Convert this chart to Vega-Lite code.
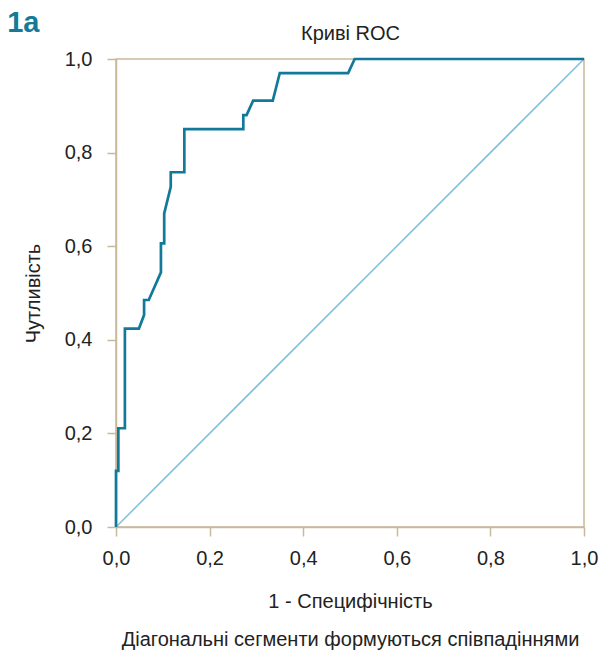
{
  "$schema": "https://vega.github.io/schema/vega-lite/v6.json",
  "autosize": "none",
  "width": 468,
  "height": 468,
  "padding": {"left": 116, "top": 59, "right": 17, "bottom": 134},
  "background": "#ffffff",
  "title": {
    "text": "1a",
    "anchor": "start",
    "frame": "bounds",
    "dx": -16,
    "dy": 36,
    "offset": -2,
    "baseline": "alphabetic"
  },
  "config": {
    "font": "Liberation Sans",
    "title": {"font": "Liberation Sans", "fontSize": 29, "fontWeight": "bold", "color": "#147a98"},
    "view": {"stroke": "#c9b99b", "strokeWidth": 1.5},
    "axis": {
      "domainColor": "#c9b99b",
      "domainWidth": 1.5,
      "tickColor": "#c9b99b",
      "tickWidth": 1.5,
      "tickSize": 9,
      "grid": false,
      "labelFlush": false,
      "labelFont": "Liberation Sans",
      "labelFontSize": 20,
      "labelColor": "#222222",
      "titleFont": "Liberation Sans",
      "titleFontSize": 20,
      "titleFontWeight": "normal",
      "titleColor": "#222222"
    }
  },
  "datasets": {
    "roc": [
      {"o": 0, "fpr": 0, "tpr": 0},
      {"o": 1, "fpr": 0, "tpr": 0.12},
      {"o": 2, "fpr": 0.005, "tpr": 0.12},
      {"o": 3, "fpr": 0.005, "tpr": 0.211},
      {"o": 4, "fpr": 0.019, "tpr": 0.211},
      {"o": 5, "fpr": 0.019, "tpr": 0.424},
      {"o": 6, "fpr": 0.049, "tpr": 0.424},
      {"o": 7, "fpr": 0.06, "tpr": 0.453},
      {"o": 8, "fpr": 0.06, "tpr": 0.485},
      {"o": 9, "fpr": 0.07, "tpr": 0.485},
      {"o": 10, "fpr": 0.096, "tpr": 0.544},
      {"o": 11, "fpr": 0.096, "tpr": 0.606},
      {"o": 12, "fpr": 0.103, "tpr": 0.606},
      {"o": 13, "fpr": 0.103, "tpr": 0.67},
      {"o": 14, "fpr": 0.117, "tpr": 0.727},
      {"o": 15, "fpr": 0.117, "tpr": 0.758},
      {"o": 16, "fpr": 0.146, "tpr": 0.758},
      {"o": 17, "fpr": 0.146, "tpr": 0.85},
      {"o": 18, "fpr": 0.272, "tpr": 0.85},
      {"o": 19, "fpr": 0.272, "tpr": 0.88},
      {"o": 20, "fpr": 0.279, "tpr": 0.88},
      {"o": 21, "fpr": 0.293, "tpr": 0.911},
      {"o": 22, "fpr": 0.335, "tpr": 0.911},
      {"o": 23, "fpr": 0.35, "tpr": 0.97},
      {"o": 24, "fpr": 0.496, "tpr": 0.97},
      {"o": 25, "fpr": 0.51, "tpr": 1.0},
      {"o": 26, "fpr": 1.0, "tpr": 1.0}
    ],
    "diag": [
      {"o": 0, "fpr": 0, "tpr": 0},
      {"o": 1, "fpr": 1, "tpr": 1}
    ]
  },
  "layer": [
    {
      "data": {"name": "diag"},
      "mark": {"type": "line", "color": "#7fc3dc", "strokeWidth": 1.6},
      "encoding": {
        "x": {
          "field": "fpr", "type": "quantitative",
          "scale": {"domain": [0, 1], "nice": false},
          "axis": {
            "orient": "top",
            "title": "Криві ROC",
            "domain": false, "ticks": false, "labels": false,
            "titlePadding": 16
          }
        },
        "y": {
          "field": "tpr", "type": "quantitative",
          "scale": {"domain": [0, 1], "nice": false},
          "axis": {
            "title": "Чутливість",
            "values": [0, 0.2, 0.4, 0.6, 0.8, 1.0],
            "labelExpr": "replace(format(datum.value, '.1f'), '.', ',')",
            "labelPadding": 15,
            "titlePadding": 21
          }
        },
        "order": {"field": "o"}
      }
    },
    {
      "data": {"name": "roc"},
      "mark": {"type": "line", "color": "#13799a", "strokeWidth": 2.7, "strokeJoin": "miter"},
      "encoding": {
        "x": {
          "field": "fpr", "type": "quantitative",
          "axis": {
            "orient": "bottom",
            "title": ["1 - Специфічність", "Діагональні сегменти формуються співпадіннями"],
            "titleLineHeight": 38,
            "values": [0, 0.2, 0.4, 0.6, 0.8, 1.0],
            "labelExpr": "replace(format(datum.value, '.1f'), '.', ',')",
            "labelPadding": 12,
            "titlePadding": 23
          }
        },
        "y": {"field": "tpr", "type": "quantitative"},
        "order": {"field": "o"}
      }
    }
  ]
}
